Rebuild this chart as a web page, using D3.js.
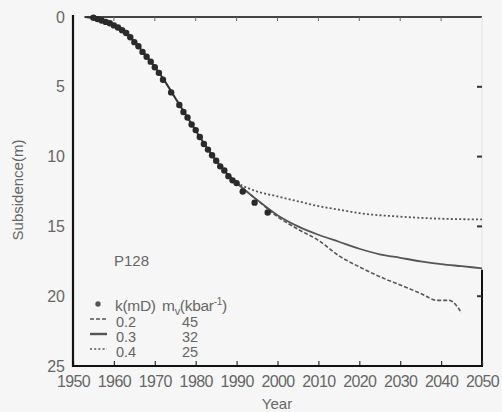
<!DOCTYPE html>
<html><head><meta charset="utf-8">
<script src="https://cdn.jsdelivr.net/npm/d3@7"></script>
<style>
body{margin:0;background:#f6f6f6;}
svg{display:block;background:#f6f6f6;font-family:"Liberation Sans",Arial,sans-serif;}
</style></head><body>
<svg id="c" width="502" height="412"></svg>
<script>
// Observed subsidence (dots)
const obsYears = [1955,1956,1957,1958,1959,1960,1961,1962,1963,1964,1965,1966,1967,1968,1969,1970,1971,1972,1974,1976,1977,1978,1979,1980,1981,1982,1983,1984,1985,1986,1987,1988,1989,1990,1991.5,1994.4,1997.6];
const obsValues = [0.05,0.15,0.25,0.35,0.45,0.6,0.75,0.95,1.15,1.45,1.8,2.1,2.5,2.85,3.2,3.6,4.0,4.5,5.4,6.3,6.8,7.2,7.7,8.1,8.6,9.1,9.5,9.9,10.3,10.7,11.0,11.4,11.7,11.9,12.5,13.3,14.0];
// Common historical simulated curve
const histYears = [1953,1956,1960,1963,1966,1969,1972,1975,1978,1981,1984,1987,1990];
const histValues = [0,0.15,0.6,1.15,2.1,3.2,4.4,5.8,7.2,8.6,9.9,11.0,11.9];
// Predictions
const k02Years = [1990,1995,2000,2005,2010,2015,2020,2025,2030,2035,2039,2042,2045];
const k02Values = [11.9,13.1,14.3,15.2,16.0,17.1,17.9,18.6,19.2,19.8,20.3,20.3,21.2];
const k03Years = [1990,1995,2000,2005,2010,2015,2020,2025,2030,2035,2040,2045,2050];
const k03Values = [11.9,13.1,14.2,15.0,15.6,16.1,16.6,17.0,17.25,17.5,17.7,17.85,18.0];
const k04Years = [1990,1995,2000,2005,2010,2015,2020,2030,2040,2050];
const k04Values = [11.9,12.5,12.85,13.2,13.55,13.8,14.05,14.3,14.45,14.5];
const xTicks = [1950,1960,1970,1980,1990,2000,2010,2020,2030,2040,2050];
const yTicks = [0,5,10,15,20,25];
const legendK = ["0.2","0.3","0.4"];
const legendMv = ["45","32","25"];

const svg = d3.select("#c");
const x = d3.scaleLinear().domain([1950,2050]).range([73,482]);
const y = d3.scaleLinear().domain([0,25]).range([17,366]);
const txt = "#666", ink = "#333";

// frame: top line with downward ticks
svg.append("line").attr("x1",x(1952.8)).attr("x2",x(2050)).attr("y1",y(0)).attr("y2",y(0))
  .attr("stroke","#444").attr("stroke-width",2);
xTicks.slice(1,-1).forEach(t=>{
  svg.append("line").attr("x1",x(t)).attr("x2",x(t)).attr("y1",y(0)).attr("y2",y(0)+4)
    .attr("stroke","#666").attr("stroke-width",1);
});
// right border
svg.append("line").attr("x1",x(2050)).attr("x2",x(2050)).attr("y1",y(0)).attr("y2",y(18.1))
  .attr("stroke","#e2e2e2").attr("stroke-width",1);
svg.append("line").attr("x1",x(2050)).attr("x2",x(2050)).attr("y1",y(18.1)).attr("y2",y(25))
  .attr("stroke","#111").attr("stroke-width",2);
[5,10,15,20].forEach(t=>{
  svg.append("line").attr("x1",x(2050)-5).attr("x2",x(2050)).attr("y1",y(t)).attr("y2",y(t))
    .attr("stroke","#333").attr("stroke-width",2);
});

// bottom axis
const gx = svg.append("g").attr("transform",`translate(0,${y(25)})`)
  .call(d3.axisBottom(x).tickValues(xTicks).tickFormat(d3.format("d")).tickSize(-5).tickPadding(10));
gx.select(".domain").remove();
gx.selectAll(".tick line").attr("stroke","#333").attr("stroke-width",1.2);
gx.selectAll("text").attr("fill",txt).style("font-size","16px").style("letter-spacing","-0.6px")
  .style("font-family","'Liberation Sans',Arial,sans-serif");
svg.append("line").attr("x1",x(1950)).attr("x2",x(2050)+1).attr("y1",y(25)).attr("y2",y(25))
  .attr("stroke","#111").attr("stroke-width",2.2);

// left axis
const gy = svg.append("g").attr("transform",`translate(${x(1950)},0)`)
  .call(d3.axisLeft(y).tickValues(yTicks).tickSize(0).tickPadding(8));
gy.select(".domain").remove();
gy.selectAll("text").attr("fill",txt).style("font-size","16px")
  .style("font-family","'Liberation Sans',Arial,sans-serif");
svg.append("line").attr("x1",x(1950)).attr("x2",x(1950)).attr("y1",15).attr("y2",y(25)+1)
  .attr("stroke","#111").attr("stroke-width",2.2);

// axis titles
svg.append("text").attr("x",277).attr("y",409).attr("text-anchor","middle")
  .attr("fill",txt).style("font-size","15px").text("Year");
svg.append("text").attr("transform","translate(23,190) rotate(-90)").attr("text-anchor","middle")
  .attr("fill",txt).style("font-size","15px").text("Subsidence(m)");

// lines
const line = d3.line().x(d=>x(d[0])).y(d=>y(d[1])).curve(d3.curveMonotoneX);
const zip = (a,b)=>a.map((v,i)=>[v,b[i]]);
svg.append("path").attr("d",line(zip(histYears,histValues))).attr("fill","none")
  .attr("stroke",ink).attr("stroke-width",2);
svg.append("path").attr("d",line(zip(k04Years,k04Values))).attr("fill","none")
  .attr("stroke","#555").attr("stroke-width",1.8).attr("stroke-dasharray","2,2.2");
svg.append("path").attr("d",line(zip(k02Years,k02Values))).attr("fill","none")
  .attr("stroke","#555").attr("stroke-width",1.6).attr("stroke-dasharray","4,2");
svg.append("path").attr("d",line(zip(k03Years,k03Values))).attr("fill","none")
  .attr("stroke","#555").attr("stroke-width",1.8);

// dots
svg.append("g").selectAll("circle").data(zip(obsYears,obsValues)).join("circle")
  .attr("cx",d=>x(d[0])).attr("cy",d=>y(d[1])).attr("r",3.2).attr("fill","#2a2a2a");

// label & legend
svg.append("text").attr("x",114).attr("y",266).attr("fill",txt).style("font-size","15px").text("P128");
svg.append("circle").attr("cx",98).attr("cy",304).attr("r",2.7).attr("fill","#555");
svg.append("text").attr("x",115).attr("y",311).attr("fill",txt).style("font-size","15.5px").style("letter-spacing","-0.3px").text("k(mD)");
const mv = svg.append("text").attr("x",162).attr("y",311).attr("fill",txt).style("font-size","15.5px").style("letter-spacing","-0.3px");
mv.append("tspan").text("m");
mv.append("tspan").attr("dy",4).style("font-size","11px").text("v");
mv.append("tspan").attr("dy",-4).text("(kbar");
mv.append("tspan").attr("dy",-6).style("font-size","10px").text("-1");
mv.append("tspan").attr("dy",6).text(")");
const rowY = [327,342,357];
const dashes = ["4,2",null,"2,2.2"];
legendK.forEach((k,i)=>{
  const l = svg.append("line").attr("x1",90).attr("x2",107).attr("y1",rowY[i]-8).attr("y2",rowY[i]-8)
    .attr("stroke","#555").attr("stroke-width",i===1?2.4:1.6);
  if(dashes[i]) l.attr("stroke-dasharray",dashes[i]);
  svg.append("text").attr("x",116).attr("y",rowY[i]).attr("fill",txt).style("font-size","14.5px").text(k);
  svg.append("text").attr("x",182).attr("y",rowY[i]).attr("fill",txt).style("font-size","14.5px").text(legendMv[i]);
});
</script></body></html>
